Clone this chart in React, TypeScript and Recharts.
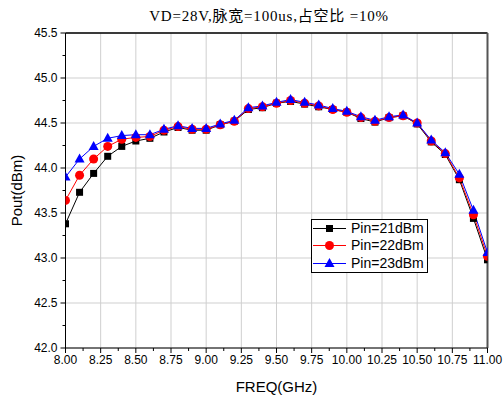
import React from "react";
import { LineChart, Line, XAxis, YAxis, CartesianGrid, ReferenceLine, Legend } from "recharts";

const title = "VD=28V,脉宽=100us,占空比 =10%";
const xTitle = "FREQ(GHz)";
const yTitle = "Pout(dBm)";

const freq = [8.0, 8.1, 8.2, 8.3, 8.4, 8.5, 8.6, 8.7, 8.8, 8.9, 9.0, 9.1, 9.2, 9.3, 9.4, 9.5, 9.6, 9.7, 9.8, 9.9, 10.0, 10.1, 10.2, 10.3, 10.4, 10.5, 10.6, 10.7, 10.8, 10.9, 11.0];
const pin21 = [43.38, 43.73, 43.94, 44.13, 44.24, 44.30, 44.33, 44.40, 44.45, 44.42, 44.42, 44.48, 44.52, 44.65, 44.67, 44.72, 44.74, 44.71, 44.68, 44.65, 44.62, 44.55, 44.51, 44.56, 44.58, 44.49, 44.29, 44.15, 43.87, 43.44, 42.98];
const pin22 = [43.64, 43.92, 44.10, 44.24, 44.32, 44.34, 44.35, 44.42, 44.46, 44.43, 44.43, 44.48, 44.52, 44.66, 44.68, 44.72, 44.75, 44.72, 44.69, 44.65, 44.62, 44.56, 44.52, 44.56, 44.58, 44.50, 44.30, 44.16, 43.89, 43.48, 43.02];
const pin23 = [43.90, 44.10, 44.24, 44.33, 44.36, 44.37, 44.37, 44.43, 44.47, 44.44, 44.44, 44.49, 44.53, 44.67, 44.69, 44.73, 44.76, 44.73, 44.70, 44.66, 44.63, 44.57, 44.53, 44.57, 44.59, 44.50, 44.31, 44.17, 43.93, 43.53, 43.06];

const seriesNames = ["Pin=21dBm", "Pin=22dBm", "Pin=23dBm"];
const seriesKeys = ["p21", "p22", "p23"];
const seriesColors = ["#000000", "#ff0000", "#0000ff"];
const seriesShapes = ["square", "circle", "triangle"];

const xTicks = [8.0, 8.125, 8.25, 8.375, 8.5, 8.625, 8.75, 8.875, 9.0, 9.125, 9.25, 9.375, 9.5, 9.625, 9.75, 9.875, 10.0, 10.125, 10.25, 10.375, 10.5, 10.625, 10.75, 10.875, 11.0];
const xMajor = [8.0, 8.25, 8.5, 8.75, 9.0, 9.25, 9.5, 9.75, 10.0, 10.25, 10.5, 10.75, 11.0];
const yTicks = [42.0, 42.25, 42.5, 42.75, 43.0, 43.25, 43.5, 43.75, 44.0, 44.25, 44.5, 44.75, 45.0, 45.25, 45.5];
const yMajor = [42.0, 42.5, 43.0, 43.5, 44.0, 44.5, 45.0, 45.5];

const data = freq.map((f, i) => ({ freq: f, p21: pin21[i], p22: pin22[i], p23: pin23[i] }));

const FONT = "'Liberation Sans', Arial, sans-serif";

const isIn = (arr: number[], v: number) => arr.some((a) => Math.abs(a - v) < 1e-6);

const XTick = (props: any) => {
  const { x, y, payload } = props;
  const v = payload.value;
  const major = isIn(xMajor, v);
  return (
    <g>
      <line x1={x} x2={x} y1={y} y2={y + (major ? 5 : 3)} stroke="#000" strokeWidth={1} />
      {major && (
        <text x={x} y={y + 16} textAnchor="middle" fontSize={12} fontFamily={FONT} fill="#000">
          {v.toFixed(2)}
        </text>
      )}
    </g>
  );
};

const YTick = (props: any) => {
  const { x, y, payload } = props;
  const v = payload.value;
  const major = isIn(yMajor, v);
  return (
    <g>
      <line x1={x} x2={x - (major ? 5 : 3)} y1={y} y2={y} stroke="#000" strokeWidth={1} />
      {major && (
        <text x={x - 8} y={y} dy="0.35em" textAnchor="end" fontSize={12} fontFamily={FONT} fill="#000">
          {v.toFixed(1)}
        </text>
      )}
    </g>
  );
};

const Marker = ({ shape, cx, cy, color }: { shape: string; cx: number; cy: number; color: string }) => {
  if (shape === "square") return <rect x={cx - 3.5} y={cy - 3.5} width={7} height={7} fill={color} />;
  if (shape === "circle") return <circle cx={cx} cy={cy} r={4.5} fill={color} />;
  return <polygon points={`${cx},${cy - 5.5} ${cx - 5},${cy + 3.5} ${cx + 5},${cy + 3.5}`} fill={color} />;
};

const makeDot = (shape: string, color: string) => (props: any) => {
  const { cx, cy, index } = props;
  if (cx == null || cy == null) return <g key={index} />;
  return (
    <g key={`${shape}-${index}`}>
      <Marker shape={shape} cx={cx} cy={cy} color={color} />
    </g>
  );
};

const LegendBox = () => (
  <div
    style={{
      width: 115,
      height: 52,
      border: "1px solid #000",
      background: "#fff",
      fontFamily: FONT,
      fontSize: 14,
      boxSizing: "content-box",
    }}
  >
    {seriesNames.map((name, i) => (
      <div key={name} style={{ display: "flex", alignItems: "center", height: 17.3 }}>
        <svg width={36} height={17} style={{ display: "block" }}>
          <line x1={1} x2={34} y1={8.5} y2={8.5} stroke={seriesColors[i]} strokeWidth={1} />
          <Marker shape={seriesShapes[i]} cx={17.5} cy={8.5} color={seriesColors[i]} />
        </svg>
        <span style={{ marginLeft: 3, color: "#000", lineHeight: "17px", whiteSpace: "nowrap" }}>{name}</span>
      </div>
    ))}
  </div>
);

export default function App() {
  return (
    <div style={{ position: "absolute", left: 0, top: 0, width: 504, height: 396, background: "#fff" }}>
      <div
        style={{
          position: "absolute",
          left: 119,
          top: 6,
          width: 300,
          textAlign: "center",
          fontFamily: "'Liberation Serif', 'Noto Sans CJK SC', serif",
          fontSize: 15,
          letterSpacing: "0.8px",
          lineHeight: "20px",
          color: "#000",
          whiteSpace: "nowrap",
        }}
      >
        {title}
      </div>
      <LineChart width={504} height={396} data={data} margin={{ top: 33, right: 16.5, bottom: 0, left: 0 }}>
        <CartesianGrid stroke="#cfcfcf" strokeWidth={1} verticalValues={xMajor} horizontalValues={yMajor} />
        <XAxis
          dataKey="freq"
          type="number"
          domain={[8, 11]}
          ticks={xTicks}
          interval={0}
          tick={<XTick />}
          tickLine={false}
          tickSize={0}
          tickMargin={0}
          axisLine={{ stroke: "#000", strokeWidth: 1 }}
          height={48}
          allowDataOverflow
          label={{
            content: (p: any) => {
              const vb = p.viewBox;
              return (
                <text x={vb.x + vb.width / 2} y={vb.y + 44} textAnchor="middle" fontSize={15} fontFamily={FONT} fill="#000">
                  {xTitle}
                </text>
              );
            },
          }}
        />
        <YAxis
          type="number"
          domain={[42, 45.5]}
          ticks={yTicks}
          interval={0}
          tick={<YTick />}
          tickLine={false}
          tickSize={0}
          tickMargin={0}
          axisLine={{ stroke: "#000", strokeWidth: 1 }}
          width={65.5}
          allowDataOverflow
          label={{
            content: (p: any) => {
              const vb = p.viewBox;
              const cx = vb.x + 16;
              const cy = vb.y + vb.height / 2;
              return (
                <text x={cx} y={cy} transform={`rotate(-90 ${cx} ${cy})`} textAnchor="middle" dominantBaseline="central" fontSize={15} fontFamily={FONT} fill="#000">
                  {yTitle}
                </text>
              );
            },
          }}
        />
        <ReferenceLine y={45.5} stroke="#000" strokeWidth={1.5} />
        <ReferenceLine x={11} stroke="#555" strokeWidth={2} />
        {seriesKeys.map((k, i) => (
          <Line
            key={k}
            dataKey={k}
            name={seriesNames[i]}
            stroke={seriesColors[i]}
            strokeWidth={1}
            dot={makeDot(seriesShapes[i], seriesColors[i])}
            activeDot={false}
            isAnimationActive={false}
          />
        ))}
        <Legend
          layout="horizontal"
          verticalAlign="middle"
          align="center"
          content={() => <LegendBox />}
          wrapperStyle={{ left: 311, top: 219, width: 117, height: 54 }}
        />
      </LineChart>
    </div>
  );
}
